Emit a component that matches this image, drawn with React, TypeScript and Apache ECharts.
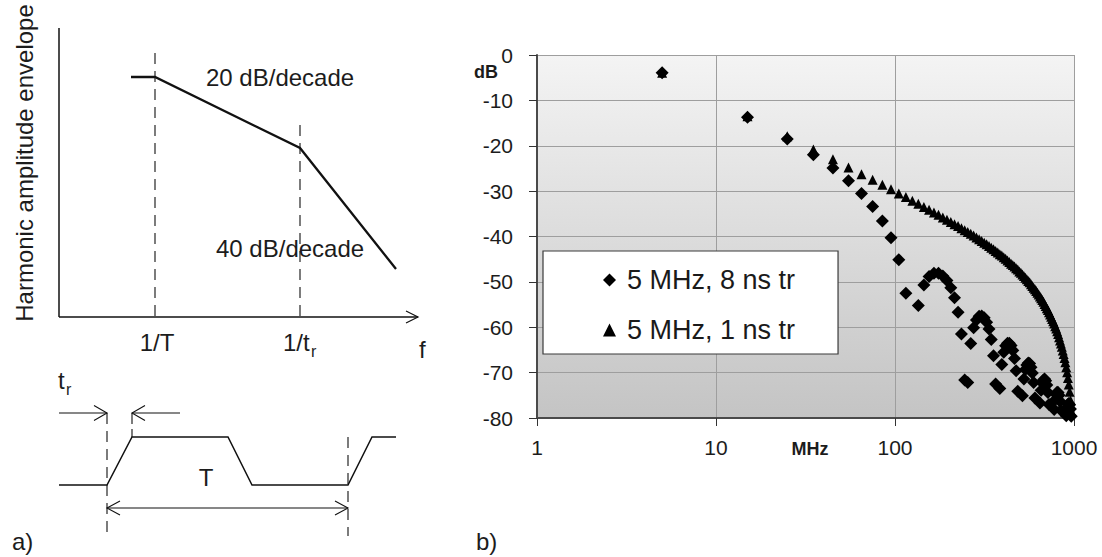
import React, { useEffect, useRef } from "react";
import * as echarts from "echarts";

// ---- data ----
const seriesNames = ["5 MHz, 8 ns tr", "5 MHz, 1 ns tr"];
const yTicks = [0, -10, -20, -30, -40, -50, -60, -70, -80];
const xTickLabels = ["1", "10", "100", "1000"];

// 8 ns rise time (diamonds): frequency in MHz, level in dB
const freq8 = [5, 15, 25, 35, 45, 55, 65, 75, 85, 95, 105, 115,
  135, 145, 155, 165, 175, 185, 195, 205, 215, 225, 235, 245, 255, 265, 275, 285, 295, 305, 315, 325, 335, 345, 355, 365,
  385, 395, 405, 415, 425, 435, 445, 455, 465, 475, 485,
  515, 525, 535, 545, 555, 565, 575, 585, 595, 605,
  645, 655, 665, 675, 685, 695, 705, 715, 725,
  775, 785, 795, 805, 815, 825, 835, 845,
  905, 915, 925, 935, 945, 955, 965];
const db8 = [-3.9, -13.7, -18.5, -22.0, -24.9, -27.7, -30.5, -33.4, -36.6, -40.3, -45.1, -52.5,
  -55.2, -50.7, -48.8, -48.1, -48.1, -48.7, -49.7, -51.3, -53.5, -56.7, -61.5, -71.6, -72.2, -63.6, -60.1, -58.4, -57.6, -57.5, -57.9, -58.9, -60.4, -62.7, -66.3, -72.5,
  -73.5, -68.2, -65.5, -64.1, -63.5, -63.5, -64.0, -65.1, -66.9, -69.6, -74.1,
  -75.1, -71.4, -69.3, -68.3, -67.9, -68.0, -68.8, -70.1, -72.2, -75.6,
  -76.7, -73.9, -72.3, -71.6, -71.4, -71.8, -72.7, -74.4, -77.0,
  -78.1, -76.0, -74.8, -74.3, -74.4, -75.0, -76.3, -78.3,
  -79.5, -77.9, -77.0, -76.8, -77.1, -78.0, -79.6];

// 1 ns rise time (triangles)
const freq1 = [5, 15, 25, 35, 45, 55, 65, 75, 85, 95,
  105, 115, 125, 135, 145, 155, 165, 175, 185, 195,
  205, 215, 225, 235, 245, 255, 265, 275, 285, 295,
  305, 315, 325, 335, 345, 355, 365, 375, 385, 395,
  405, 415, 425, 435, 445, 455, 465, 475, 485, 495,
  505, 515, 525, 535, 545, 555, 565, 575, 585, 595,
  605, 615, 625, 635, 645, 655, 665, 675, 685, 695,
  705, 715, 725, 735, 745, 755, 765, 775, 785, 795,
  805, 815, 825, 835, 845, 855, 865, 875, 885, 895,
  905, 915, 925, 935, 945, 955, 965];
const db1 = [-3.9, -13.5, -17.9, -20.8, -23.0, -24.8, -26.3, -27.5, -28.6, -29.6,
  -30.5, -31.3, -32.1, -32.8, -33.5, -34.1, -34.7, -35.2, -35.8, -36.3,
  -36.8, -37.3, -37.7, -38.2, -38.6, -39.0, -39.4, -39.8, -40.2, -40.6,
  -41.0, -41.4, -41.7, -42.1, -42.5, -42.8, -43.2, -43.5, -43.9, -44.2,
  -44.6, -44.9, -45.3, -45.6, -46.0, -46.3, -46.6, -47.0, -47.3, -47.7,
  -48.0, -48.4, -48.7, -49.1, -49.4, -49.8, -50.1, -50.5, -50.9, -51.3,
  -51.6, -52.0, -52.4, -52.8, -53.2, -53.6, -54.0, -54.4, -54.9, -55.3,
  -55.8, -56.2, -56.7, -57.2, -57.7, -58.2, -58.7, -59.2, -59.8, -60.3,
  -60.9, -61.5, -62.2, -62.9, -63.6, -64.3, -65.1, -65.9, -66.8, -67.7,
  -68.8, -69.9, -71.2, -72.6, -74.2, -76.1, -78.5];

const FONT = "'Liberation Sans', Arial, Helvetica, sans-serif";
const INK = "#1c1c1c";

function txt(text: string, x: number, y: number, size: number, align = "left", opts: any = {}) {
  const el: any = {
    type: "text",
    x,
    y,
    silent: true,
    style: {
      text,
      fontSize: size,
      fontFamily: FONT,
      fontWeight: opts.bold ? "bold" : "normal",
      fill: INK,
      align,
      verticalAlign: "middle",
    },
  };
  if (opts.rotation !== undefined) el.rotation = opts.rotation;
  return el;
}
function ln(x1: number, y1: number, x2: number, y2: number, w = 1.3, dash: number[] | null = null) {
  const style: any = { stroke: "#111", lineWidth: w };
  if (dash) style.lineDash = dash;
  return { type: "line", silent: true, shape: { x1, y1, x2, y2 }, style };
}
function pl(points: number[][], w = 1.3) {
  return {
    type: "polyline",
    silent: true,
    shape: { points },
    style: { stroke: "#111", lineWidth: w, fill: null },
  };
}

export default function App() {
  const ref = useRef<HTMLDivElement>(null);
  useEffect(() => {
    if (!ref.current) return;
    const chart = echarts.init(ref.current, undefined, { renderer: "svg" });
    const dash = [11, 7];
    const graphic: any[] = [
      // (a) spectrum envelope sketch
      ln(59, 28, 59, 317, 1.5),
      ln(59, 317, 418, 317, 1.5),
      pl([[406, 311], [418, 317], [406, 323]], 1.2),
      ln(155, 53, 155, 317, 1.1, dash),
      ln(300, 125, 300, 317, 1.1, dash),
      pl([[131, 77], [155, 77], [300, 148], [396, 269]], 2.3),
      txt("20 dB/decade", 206, 77, 24),
      txt("40 dB/decade", 216, 248, 24),
      txt("Harmonic amplitude envelope", 24, 163, 24, "center", { rotation: Math.PI / 2 }),
      txt("1/T", 157, 342, 24, "center"),
      txt("1/t", 283, 342, 24),
      txt("r", 311, 351, 16),
      txt("f", 419, 349, 24),
      // pulse sketch
      txt("t", 58, 380, 24),
      txt("r", 66, 389, 16),
      ln(59, 413, 107, 413, 1.1),
      pl([[94, 405.5], [107, 413], [94, 420.5]], 1.1),
      ln(180, 413, 132, 413, 1.1),
      pl([[145, 405.5], [132, 413], [145, 420.5]], 1.1),
      ln(107, 413, 107, 536, 1.1, dash),
      ln(132, 413, 132, 437, 1.1, [11, 5]),
      ln(348, 437, 348, 536, 1.1, dash),
      pl([[59, 485], [107, 485], [132, 437], [228, 437], [252, 485], [348, 485], [372, 437], [396, 437]], 1.5),
      ln(107, 508, 348, 508, 1.1),
      pl([[120, 501], [107, 508], [120, 515]], 1.1),
      pl([[335, 501], [348, 508], [335, 515]], 1.1),
      txt("T", 206, 477, 24, "center"),
      txt("a)", 12, 541, 24),
      txt("b)", 476, 541, 24),
      // (b) axis names
      txt("dB", 486, 72, 18, "center", { bold: true }),
      txt("MHz", 810, 449, 18, "center", { bold: true }),
    ];

    const option: any = {
      animation: false,
      textStyle: { fontFamily: FONT },
      grid: {
        left: 537,
        top: 55,
        right: 28,
        bottom: 139,
        show: true,
        borderWidth: 0,
        backgroundColor: {
          type: "linear", x: 0, y: 0, x2: 0, y2: 1,
          colorStops: [
            { offset: 0, color: "#f4f4f4" },
            { offset: 1, color: "#c4c4c4" },
          ],
        },
      },
      xAxis: {
        type: "log",
        logBase: 10,
        min: 1,
        max: 1000,
        axisLine: { show: true, onZero: false, lineStyle: { color: "#4a4a4a", width: 2 } },
        axisTick: { show: true, length: 8, lineStyle: { color: "#333", width: 1 } },
        axisLabel: {
          margin: 19,
          fontSize: 21,
          color: INK,
          fontFamily: FONT,
          formatter: (v: number) => {
            const s = String(Math.round(v));
            return xTickLabels.indexOf(s) >= 0 ? s : "";
          },
        },
        splitLine: { show: true, lineStyle: { color: "#9e9e9e", width: 1 } },
        minorTick: { show: false },
      },
      yAxis: {
        type: "value",
        min: -80,
        max: 0,
        interval: 10,
        axisLine: { show: true, lineStyle: { color: "#4a4a4a", width: 2 } },
        axisTick: { show: true, length: 8, lineStyle: { color: "#333", width: 1 } },
        axisLabel: {
          margin: 24,
          fontSize: 21,
          color: INK,
          fontFamily: FONT,
          formatter: (v: number) => (yTicks.indexOf(v) >= 0 ? String(v) : ""),
        },
        splitLine: { show: true, lineStyle: { color: "#9e9e9e", width: 1 } },
      },
      legend: {
        show: true,
        orient: "vertical",
        left: 543,
        top: 251,
        backgroundColor: "#ffffff",
        borderColor: "#3a3a3a",
        borderWidth: 1.2,
        borderRadius: 0,
        padding: [14, 43, 9, 60],
        itemWidth: 13,
        itemHeight: 13,
        itemGap: 20,
        selectedMode: false,
        textStyle: {
          fontSize: 27,
          fontFamily: FONT,
          color: "#1a1a1a",
          lineHeight: 30,
          padding: [0, 0, 0, 6],
        },
        data: [
          { name: seriesNames[0], icon: "diamond", itemStyle: { color: "#000", opacity: 1 } },
          { name: seriesNames[1], icon: "triangle", itemStyle: { color: "#000", opacity: 1 } },
        ],
      },
      series: [
        {
          name: seriesNames[0],
          type: "scatter",
          symbol: "diamond",
          symbolSize: 13,
          itemStyle: { color: "#000", opacity: 1 },
          clip: false,
          data: freq8.map((f, i) => [f, db8[i]]),
        },
        {
          name: seriesNames[1],
          type: "scatter",
          symbol: "triangle",
          symbolSize: 10,
          itemStyle: { color: "#000", opacity: 1 },
          clip: false,
          data: freq1.map((f, i) => [f, db1[i]]),
        },
      ],
      graphic: { elements: graphic },
    };
    chart.setOption(option);
    return () => chart.dispose();
  }, []);
  return (
    <div
      ref={ref}
      style={{ position: "fixed", left: 0, top: 0, width: 1102, height: 557, background: "#fff" }}
    />
  );
}
